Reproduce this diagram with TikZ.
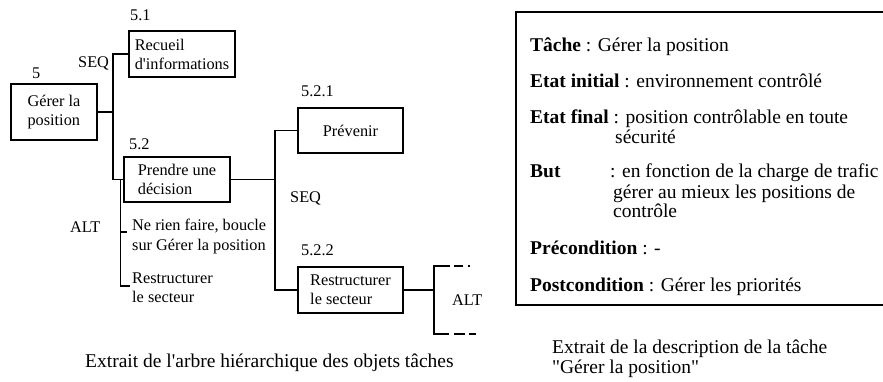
\documentclass[tikz,border=0pt]{standalone}
\usepackage{fontspec}
\setmainfont{Liberation Serif}[Ligatures=TeXOff]
\newcommand\diagfont{\fontsize{16.3}{19}\selectfont}
\newcommand\altfont{\fontsize{16.3}{19.5}\selectfont}
\newcommand\descfont{\fontsize{19.5}{20}\selectfont}
\begin{document}
\begin{tikzpicture}[x=1pt,y=-1pt,
  conn/.style={line width=1.9pt},
  taskbox/.style={draw, rectangle, line width=1.9pt, align=left, inner sep=0pt, font=\diagfont},
  lbl/.style={anchor=base west, inner sep=0pt, font=\diagfont},
  desc/.style={anchor=base west, inner sep=0pt, font=\descfont}]
\useasboundingbox (0,0) rectangle (883,382);
\clip (0,0) rectangle (883,382);
\fill[white] (0,0) rectangle (883,382);

% --- task tree ---
\node[taskbox, minimum width=86, minimum height=56]  (g5)   at (54,112)    {Gérer la\\position};
\node[taskbox, minimum width=106, minimum height=46] (g51)  at (182,54)    {Recueil\\d'informations};
\node[taskbox, minimum width=106, minimum height=45] (g52)  at (177,179.5) {Prendre une\\décision};
\node[taskbox, minimum width=105, minimum height=45] (g521) at (350.5,130.5) {Prévenir};
\node[taskbox, minimum width=105, minimum height=46] (g522) at (350.5,290) {Restructurer\\le secteur};

% numbers and operators
\node[lbl] (n5)   at (32,79)   {5};
\node[lbl] (n51)  at (130,21)  {5.1};
\node[lbl] (n52)  at (129,150) {5.2};
\node[lbl] (n521) at (301,97)  {5.2.1};
\node[lbl] (n522) at (301,255) {5.2.2};
\node[lbl] (seqA) at (78,68)   {SEQ};
\node[lbl] (seqB) at (290,203) {SEQ};
\node[lbl] (altA) at (70,233)  {ALT};
\node[lbl] (altB) at (452,305) {ALT};

% alternatives of 5.2 (base anchor sits on the last line)
\node[lbl, align=left, font=\altfont] (alt1) at (132,250) {Ne rien faire, boucle\\sur Gérer la position};
\node[lbl, align=left, font=\altfont] (alt2) at (132,302.5) {Restructurer\\le secteur};

% SEQ spine of 5
\coordinate (spA) at (113,112);
\draw[conn] (g5.east) -- (spA);
\draw[conn] (g51.west) -| (spA) |- (g52.west);

% ALT bracket under 5.2
\coordinate (altTop) at (120.5,179.5);
\coordinate (altMid) at (127,232);
\coordinate (altEnd) at (130,286);
\draw[conn] (altTop) |- (altEnd);
\draw[conn] (altTop |- altMid) -- (altMid);

% SEQ spine of 5.2
\coordinate (spB) at (275,179.5);
\draw[conn] (g52.east) -- (spB);
\draw[conn] (g521.west) -| (spB) |- (g522.west);

% open ALT bracket of 5.2.2
\coordinate (spC) at (434,290);
\coordinate (aT)  at (434,266);
\coordinate (aTe) at (470,266);
\coordinate (aB)  at (434,334);
\coordinate (aBe) at (476,334);
\draw[conn] (g522.east) -- (spC);
\draw[conn, dash pattern=on 2pt off 5pt on 9pt off 4pt on 99pt off 5pt on 11pt off 4pt on 7pt off 50pt]
  (aTe) -- (aT) -- (aB) -- (aBe);

\node[desc] (capA) at (85,367) {Extrait de l'arbre hiérarchique des objets tâches};

% --- task description ---
\draw[line width=1.9pt] (516,12) rectangle (905,305);
\node[desc] (d1)  at (530,52)  {\textbf{Tâche} : Gérer la position};
\node[desc] (d2)  at (530,88)  {\textbf{Etat initial} : environnement contrôlé};
\node[desc] (d3)  at (530,124) {\textbf{Etat final} : position contrôlable en toute};
\node[desc] (d3b) at (615,144) {sécurité};
\node[desc] (d4)  at (530,178) {\textbf{But}};
\node[desc] (d4a) at (610,178) {: en fonction de la charge de trafic};
\node[desc] (d4b) at (613,199) {gérer au mieux les positions de};
\node[desc] (d4c) at (613,218) {contrôle};
\node[desc] (d5)  at (530,254) {\textbf{Précondition} : -};
\node[desc] (d6)  at (530,291) {\textbf{Postcondition} : Gérer les priorités};

\node[desc] (capB1) at (552,353) {Extrait de la description de la tâche};
\node[desc] (capB2) at (552,373) {"Gérer la position"};
\end{tikzpicture}
\end{document}
